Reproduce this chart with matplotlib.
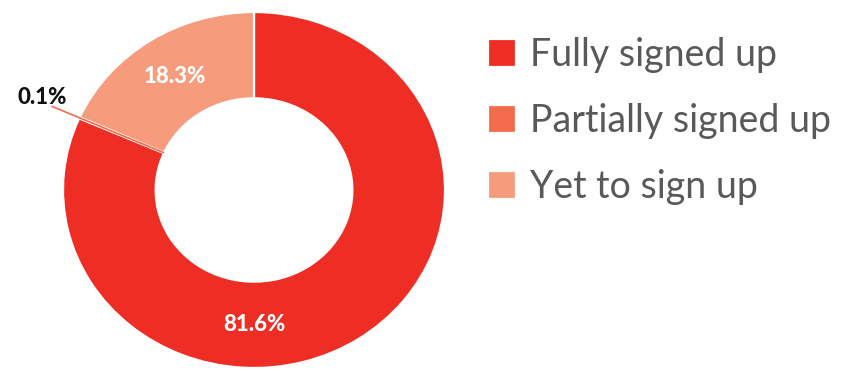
import numpy as np
import matplotlib.pyplot as plt

# data
labels = ['Fully signed up', 'Partially signed up', 'Yet to sign up']
shares = [81.6, 0.1, 18.3]
pct_text = ['81.6%', '0.1%', '18.3%']
colors = ['#EE2D24', '#F26B4B', '#F69C7C']


def main():
    fig = plt.figure(figsize=(8.46, 3.71), dpi=100)
    ax = fig.add_axes([63 / 846, 3 / 371, 382 / 846, 356 / 371])

    hole = 0.515
    wedges, _ = ax.pie(shares, colors=colors, startangle=90, counterclock=False,
                       radius=1.0,
                       wedgeprops=dict(width=1 - hole, edgecolor='white', linewidth=1.6))
    ax.set_aspect('auto')
    ax.set_xlim(-1, 1)
    ax.set_ylim(-1, 1)

    mid_r = (1 + hole) / 2
    # mid angles of each wedge
    mids = [np.deg2rad((w.theta1 + w.theta2) / 2) for w in wedges]

    # tiny slice drawn as a line plus leader
    a = mids[1]
    ax.plot([hole * np.cos(a), 1.16 * np.cos(a)], [hole * np.sin(a), 1.16 * np.sin(a)],
            color=colors[1], lw=1.2, solid_capstyle='butt', clip_on=False)
    ax.text(-1.11, 0.52, pct_text[1], ha='center', va='center', fontsize=16,
            fontweight='black', family='Lato', color='#111111')

    # big slice label at the bottom of the ring
    ax.text(0, -mid_r, pct_text[0], ha='center', va='center', fontsize=16,
            fontweight='black', family='Lato', color='white')
    a = mids[2]
    ax.text(mid_r * np.cos(a), mid_r * np.sin(a), pct_text[2], ha='center', va='center',
            fontsize=16, fontweight='black', family='Lato', color='white')

    fig.legend(wedges, labels, loc='upper left', bbox_to_anchor=(488 / 846, 1 - 37 / 371),
               frameon=False, borderpad=0, borderaxespad=0,
               handlelength=0.74, handleheight=0.74, handletextpad=0.37,
               labelspacing=0.8,
               prop=dict(family='Lato', size=27), labelcolor='#58595B')

    fig.savefig('out.png', dpi=100)


if __name__ == '__main__':
    main()
